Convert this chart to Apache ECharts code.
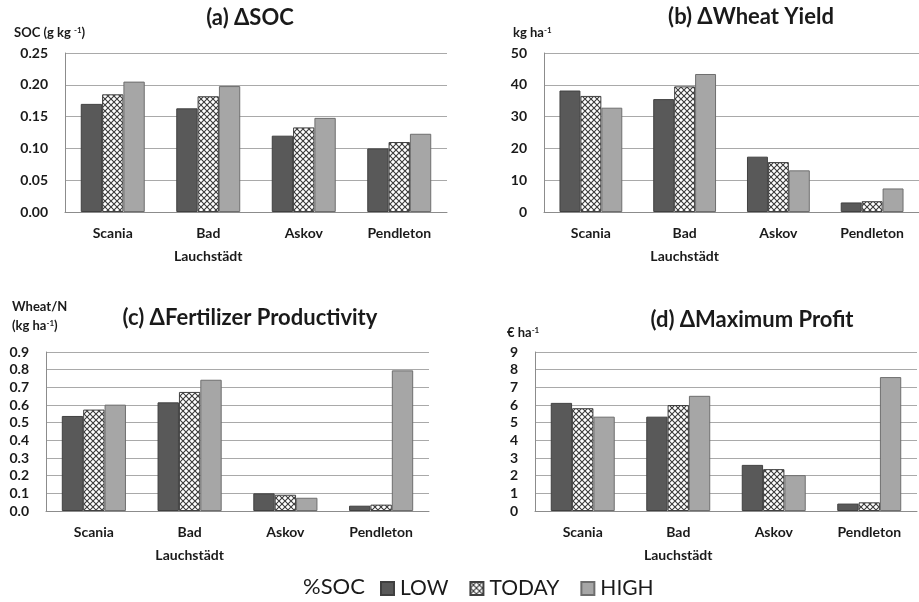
<!DOCTYPE html>
<html><head><meta charset="utf-8">
<script src="https://cdn.jsdelivr.net/npm/echarts@6/dist/echarts.min.js"></script>
<style>html,body{margin:0;padding:0;background:#fff}#c{width:919px;height:602px}</style>
</head><body><div id="c"></div>
<script>
const categories = ['Scania', 'Bad\nLauchstädt', 'Askov', 'Pendleton'];
const seriesNames = ['LOW', 'TODAY', 'HIGH'];

const socLow   = [0.170, 0.163, 0.120, 0.100];
const socToday = [0.185, 0.182, 0.133, 0.110];
const socHigh  = [0.205, 0.198, 0.148, 0.123];

const yieldLow   = [38.2, 35.5, 17.4, 3.0];
const yieldToday = [36.5, 39.5, 15.7, 3.4];
const yieldHigh  = [32.8, 43.4, 13.1, 7.4];

const fertLow   = [0.538, 0.615, 0.100, 0.030];
const fertToday = [0.574, 0.674, 0.092, 0.036];
const fertHigh  = [0.602, 0.743, 0.075, 0.796];

const profitLow   = [6.12, 5.34, 2.61, 0.42];
const profitToday = [5.82, 6.00, 2.37, 0.49];
const profitHigh  = [5.34, 6.52, 2.03, 7.58];

const panelTitles = ['(a) ΔSOC', '(b) ΔWheat Yield', '(c) ΔFertilizer Productivity', '(d) ΔMaximum Profit'];

const FONT = 'Lato, "Open Sans", sans-serif';

// crosshatch pattern
const pc = document.createElement('canvas');
pc.width = 6; pc.height = 6;
const g = pc.getContext('2d');
g.fillStyle = '#ffffff'; g.fillRect(0, 0, 6, 6);
g.strokeStyle = '#3a3a3a'; g.lineWidth = 1.1;
g.beginPath();
g.moveTo(0, 0); g.lineTo(6, 6);
g.moveTo(6, 0); g.lineTo(0, 6);
g.stroke();
const hatch = { image: pc, repeat: 'repeat' };

const styles = [
  { color: '#595959', borderColor: '#404040', borderWidth: 1 },
  { color: hatch, borderColor: '#404040', borderWidth: 1 },
  { color: '#a6a6a6', borderColor: '#6e6e6e', borderWidth: 1 }
];

const grids = [
  { left: 65, right: 472, top: 53, bottom: 390 },
  { left: 544, right: -9, top: 53, bottom: 390 },
  { left: 46, right: 490, top: 352, bottom: 91 },
  { left: 535, right: 2, top: 352, bottom: 91 }
];

const yCfg = [
  { max: 0.25, interval: 0.05, dec: 2 },
  { max: 50, interval: 10, dec: 0 },
  { max: 0.9, interval: 0.1, dec: 1 },
  { max: 9, interval: 1, dec: 0 }
];

const data = [
  [socLow, socToday, socHigh],
  [yieldLow, yieldToday, yieldHigh],
  [fertLow, fertToday, fertHigh],
  [profitLow, profitToday, profitHigh]
];

const xAxes = grids.map((_, i) => ({
  type: 'category', gridIndex: i, data: categories,
  axisTick: { show: false },
  axisLine: { lineStyle: { color: '#8c8c8c', width: 1 } },
  axisLabel: { interval: 0, margin: 10, fontFamily: FONT, fontWeight: 'bold', fontSize: 14, lineHeight: 23, color: '#1a1a1a' }
}));

const yAxes = yCfg.map((c, i) => ({
  type: 'value', gridIndex: i, min: 0, max: c.max, interval: c.interval,
  axisLine: { show: true, lineStyle: { color: '#8c8c8c', width: 1 } },
  axisTick: { show: false },
  splitLine: { lineStyle: { color: '#a9a9a9', width: 1 } },
  axisLabel: { margin: 17, fontFamily: FONT, fontWeight: 'bold', fontSize: 14, color: '#1a1a1a',
    formatter: v => v.toFixed(c.dec) }
}));

const series = [];
data.forEach((set, i) => {
  set.forEach((vals, k) => {
    series.push({
      type: 'bar', name: seriesNames[k], xAxisIndex: i, yAxisIndex: i,
      data: vals, barGap: '0%', barCategoryGap: '33%',
      itemStyle: styles[k], emphasis: { disabled: true }
    });
  });
});

const titlePos = [[250, 18], [751, 17], [250, 318], [752, 320]];
const graphics = panelTitles.map((t, i) => ({
  type: 'text', x: titlePos[i][0], y: titlePos[i][1],
  style: { text: t, font: 'bold 22px ' + FONT, fill: '#1a1a1a', textAlign: 'center', textVerticalAlign: 'middle' }
}));

const supRich = { sup: { fontSize: 8, fontWeight: 'bold', fontFamily: FONT, verticalAlign: 'top', padding: [0, 0, 6, 0], fill: '#1a1a1a' } };
const unitLabels = [
  { x: 14, y: 33, text: 'SOC (g kg {sup|-1})' },
  { x: 513, y: 33, text: 'kg ha{sup|-1}' },
  { x: 12, y: 307, text: 'Wheat/N' },
  { x: 12, y: 326, text: '(kg ha{sup|-1})' },
  { x: 507, y: 333, text: '€ ha{sup|-1}' }
];
unitLabels.forEach(u => graphics.push({
  type: 'text', x: u.x, y: u.y,
  style: { text: u.text, font: 'bold 13px ' + FONT, fill: '#1a1a1a', textAlign: 'left', textVerticalAlign: 'middle', rich: supRich }
}));
graphics.push({
  type: 'text', x: 303, y: 587,
  style: { text: '%SOC', font: '22px ' + FONT, fill: '#1a1a1a', textAlign: 'left', textVerticalAlign: 'middle' }
});

const chart = echarts.init(document.getElementById('c'), null, { renderer: 'canvas' });
chart.setOption({
  animation: false,
  backgroundColor: '#ffffff',
  grid: grids,
  xAxis: xAxes,
  yAxis: yAxes,
  series: series,
  legend: {
    data: seriesNames, left: 375, top: 573, icon: 'rect',
    itemWidth: 13, itemHeight: 13, itemGap: 21, selectedMode: false,
    textStyle: { fontFamily: FONT, fontSize: 21, color: '#1a1a1a', padding: [0, 0, 0, 1] }
  },
  graphic: graphics
});
</script></body></html>
